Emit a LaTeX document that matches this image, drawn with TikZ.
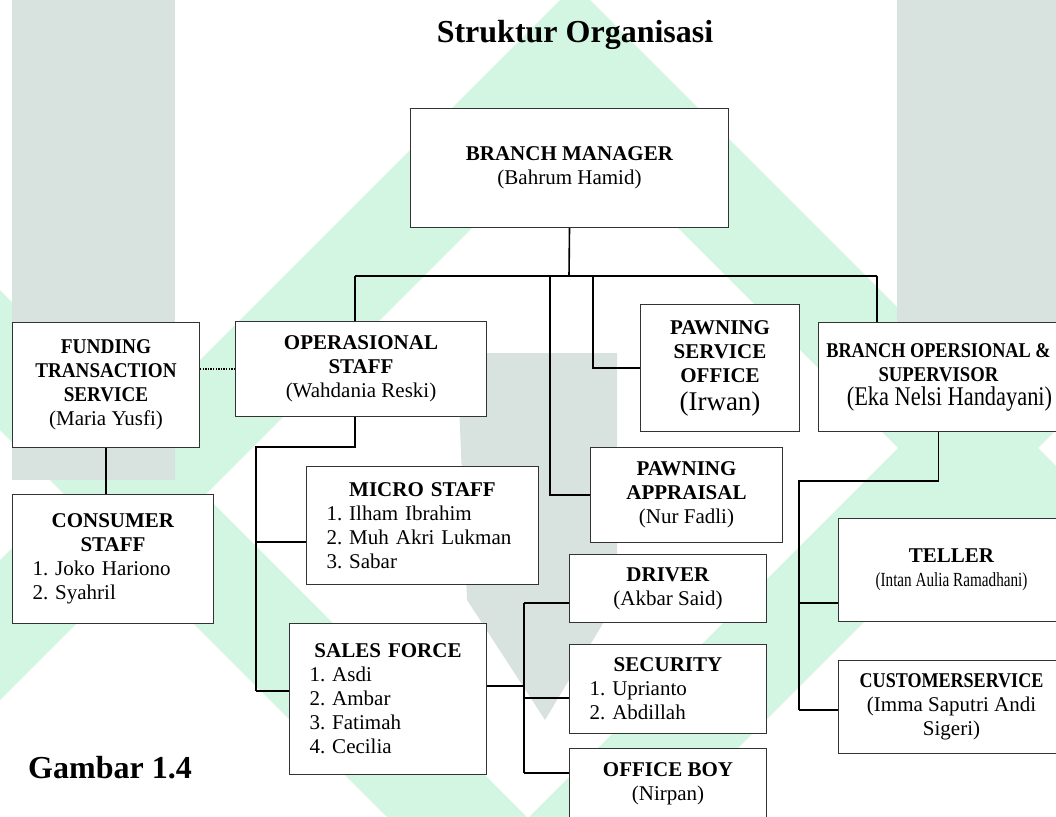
\documentclass[tikz,border=0pt]{standalone}
\usepackage{fontspec}
\setmainfont{Liberation Serif}
\usepackage{graphicx}
\usetikzlibrary{calc}
\frenchspacing
\newcommand{\cnd}[2]{\scalebox{#1}[1]{#2}}
\definecolor{wmgray}{HTML}{D8E2DE}
\definecolor{wmgreen}{HTML}{D3F6E3}
\begin{document}
\begin{tikzpicture}[x=1pt,y=-1pt,
  box/.style={draw=black!80, line width=1pt, fill=white, anchor=north west,
    inner xsep=0pt, inner ysep=0pt, align=center, font=\fontsize{21}{24}\selectfont},
  lbox/.style={box, align=left, inner xsep=20pt},
  conn/.style={line width=1.6pt, black},
  dotconn/.style={line width=1.5pt, dash pattern=on 1.3pt off 1.3pt},
  title/.style={font=\bfseries\fontsize{32}{36}\selectfont, inner sep=0pt}]
\useasboundingbox (0,0) rectangle (1056,816);
\clip (0,0) rectangle (1056,816);
\fill[white] (0,0) rectangle (1056,816);
% watermark (faint logo)
\fill[wmgreen] (-300,860) -- (575,-15) -- (1450,860) -- (1310,860) -- (575,125) -- (-160,860) -- cycle;
\fill[wmgreen] (0,430) -- (420,850) -- (560,850) -- (0,290) -- cycle;
\fill[wmgreen] (1056,430) -- (636,850) -- (496,850) -- (1056,290) -- cycle;
\fill[wmgray] (12,0) rectangle (175,480);
\fill[wmgray] (897,0) rectangle (1056,430);
\fill[wmgray] (457,353) -- (617,353) -- (617,600) -- (545,720) -- (467,600) -- cycle;

% title
\node[title, anchor=base] (title) at (575,42) {Struktur Organisasi};
\node[title, anchor=base west] (fig) at (28,778) {Gambar 1.4};

% boxes
\node[box, minimum width=318pt, minimum height=119pt] (bm) at (410,108)
  {\textbf{BRANCH MANAGER}\\(Bahrum Hamid)};
\node[box, minimum width=187pt, minimum height=125pt] (fund) at (12,322)
  {\cnd{0.92}{\textbf{FUNDING}}\\\cnd{0.91}{\textbf{TRANSACTION}}\\\cnd{0.91}{\textbf{SERVICE}}\\(Maria Yusfi)};
\node[lbox, text width=161pt, minimum height=129pt] (cons) at (12,494)
  {\makebox[161pt]{\textbf{CONSUMER}}\\\makebox[161pt]{\textbf{STAFF}}\\1. Joko Hariono\\2. Syahril};
\node[box, minimum width=251pt, minimum height=95pt] (op) at (235,321)
  {\textbf{OPERASIONAL}\\\textbf{STAFF}\\(Wahdania Reski)};
\node[box, minimum width=159pt, minimum height=127pt] (pso) at (640,304)
  {\textbf{PAWNING}\\\textbf{SERVICE}\\\textbf{OFFICE}\\[4pt]{\fontsize{27}{28}\selectfont (Irwan)}};
\node[box, minimum width=240pt, minimum height=109pt] (bos) at (818,322)
  {\cnd{0.87}{\textbf{BRANCH OPERSIONAL \&}}\\\cnd{0.89}{\textbf{SUPERVISOR}}\\\hspace*{22pt}\cnd{0.83}{\fontsize{27}{28}\selectfont (Eka Nelsi Handayani)}};
\node[box, minimum width=192pt, minimum height=95pt] (pa) at (590,447)
  {\textbf{PAWNING}\\\textbf{APPRAISAL}\\(Nur Fadli)};
\node[lbox, text width=192pt, minimum height=118pt] (micro) at (306,466)
  {\makebox[192pt]{\textbf{MICRO STAFF}}\\1. Ilham Ibrahim\\2. Muh Akri Lukman\\3. Sabar};
\node[lbox, text width=157pt, minimum height=151pt] (sales) at (289,623)
  {\makebox[157pt]{\textbf{SALES FORCE}}\\1. Asdi\\2. Ambar\\3. Fatimah\\4. Cecilia};
\node[box, minimum width=197pt, minimum height=68pt] (driver) at (569,554)
  {\textbf{DRIVER}\\(Akbar Said)};
\node[lbox, text width=157pt, minimum height=89pt] (sec) at (569,644)
  {\makebox[157pt]{\textbf{SECURITY}}\\1. Uprianto\\2. Abdillah};
\node[box, minimum width=197pt, minimum height=70pt] (ob) at (569,748)
  {\textbf{OFFICE BOY}\\(Nirpan)};
\node[box, minimum width=226pt, minimum height=103pt] (teller) at (838,518)
  {\textbf{TELLER}\\\cnd{0.76}{\fontsize{20}{24}\selectfont (Intan Aulia Ramadhani)}};
\node[box, minimum width=226pt, minimum height=93pt] (cs) at (838,660)
  {\cnd{0.86}{\textbf{CUSTOMERSERVICE}}\\(Imma Saputri Andi\\Sigeri)};

% junction coordinates
\coordinate (bus) at (569,276);
\coordinate (busL) at (355,276);
\coordinate (busR) at (877,276);
\coordinate (busA) at (550,276);
\coordinate (busP) at (593,276);
\coordinate (opd) at (355,447);
\coordinate (lv) at (256,447);
\coordinate (jm) at (256,542);
\coordinate (jsl) at (256,691);
\coordinate (js) at (524,686);
\coordinate (jd) at (524,603);
\coordinate (jsec) at (524,698);
\coordinate (job) at (524,773);
\coordinate (jb) at (799,481);
\coordinate (jt) at (799,603);
\coordinate (jcs) at (799,710);

% connectors
\draw[conn] (bm.south) -- (bus);
\draw[conn] (busL) -- (busR);
\draw[conn] (busL) -- (busL |- op.north);
\draw[conn] (busR) -- (busR |- bos.north);
\draw[conn] (busA) |- (pa.west);
\draw[conn] (busP) |- (pso.west);
\draw[dotconn] (fund.east |- op.west) -- (op.west);
\draw[conn] (fund.south) -- (fund.south |- cons.north);
\draw[conn] (opd |- op.south) -- (opd) -- (lv) -- (jsl);
\draw[conn] (jm) -- (jm -| micro.west);
\draw[conn] (jsl) -- (jsl -| sales.west);
\draw[conn] (js -| sales.east) -- (js);
\draw[conn] (jd) -- (job);
\draw[conn] (jd) -- (jd -| driver.west);
\draw[conn] (jsec) -- (jsec -| sec.west);
\draw[conn] (job) -- (job -| ob.west);
\draw[conn] (bos.south) |- (jb) -- (jcs);
\draw[conn] (jt) -- (jt -| teller.west);
\draw[conn] (jcs) -- (jcs -| cs.west);
\end{tikzpicture}
\end{document}
